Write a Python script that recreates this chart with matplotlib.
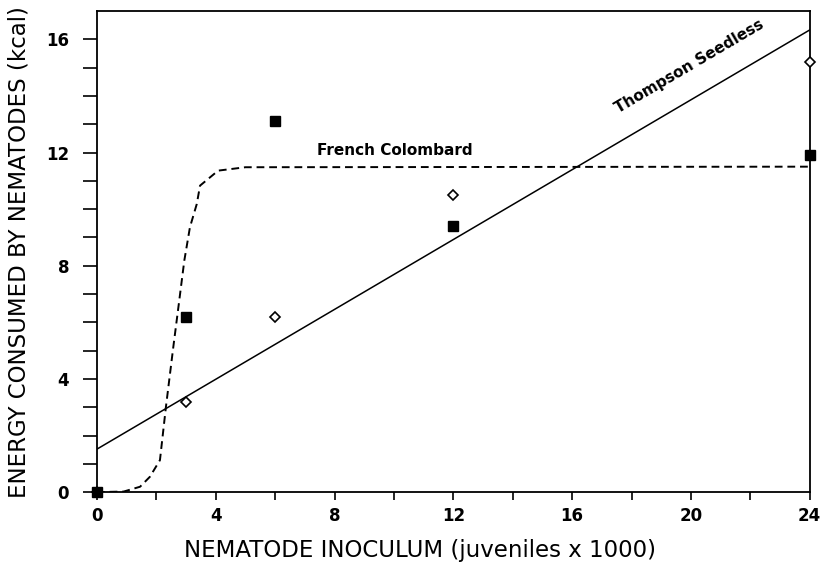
import numpy as np
import matplotlib
matplotlib.use("Agg")
import matplotlib.pyplot as plt

# inoculum (juveniles x 1000)
inoculum = [0, 3, 6, 12, 24]
french_colombard = [0, 6.2, 13.1, 9.4, 11.9]
thompson_seedless = [0, 3.2, 6.2, 10.5, 15.2]

# fitted curves
fc_curve_x = [0, 0.9, 1.45, 1.78, 2.12, 2.32, 2.57, 2.77, 2.94, 3.13, 3.36, 3.47, 4.08, 5.0, 24]
fc_curve_y = [0, 0.02, 0.19, 0.54, 1.13, 3.0, 5.13, 6.77, 8.18, 9.36, 10.18, 10.83, 11.36, 11.48, 11.5]
ts_line_x = [0, 24]
ts_line_y = [1.52, 16.33]

xticks_major = [0, 4, 8, 12, 16, 20, 24]
yticks_major = [0, 4, 8, 12, 16]


def main():
    fig = plt.figure(figsize=(8.22, 5.65), dpi=100)
    ax = fig.add_axes([0.118, 0.129, 0.867, 0.8515])

    ax.plot(fc_curve_x, fc_curve_y, "k--", lw=1.4, dashes=(4, 2.5))
    ax.plot(ts_line_x, ts_line_y, "k-", lw=1.1)
    ax.plot(inoculum, thompson_seedless, "D", ms=5, mfc="white", mec="black",
            mew=1.2, ls="none", clip_on=False, zorder=3)
    ax.plot(inoculum, french_colombard, "s", ms=7.5, color="black", ls="none",
            clip_on=False, zorder=4)

    ax.text(7.4, 12.06, "French Colombard", fontsize=11, fontweight="bold",
            va="center", ha="left")
    ax.text(19.95, 15.05, "Thompson Seedless", fontsize=11, fontweight="bold",
            va="center", ha="center", rotation=30.5, rotation_mode="anchor")

    ax.set_xlim(0, 24)
    ax.set_ylim(0, 17)
    ax.set_xticks(xticks_major)
    ax.set_xticks(np.arange(0, 25, 2), minor=True)
    ax.set_yticks(yticks_major)
    ax.set_yticks(np.arange(0, 17, 1), minor=True)
    ax.tick_params(which="both", direction="out", width=1.2, labelsize=12)
    ax.tick_params(axis="x", which="both", length=6, pad=5)
    ax.tick_params(axis="y", which="both", length=10, pad=10)
    for lab in ax.get_xticklabels() + ax.get_yticklabels():
        lab.set_fontweight("bold")
    for sp in ax.spines.values():
        sp.set_linewidth(1.3)

    ax.set_xlabel("NEMATODE INOCULUM (juveniles x 1000)", fontsize=16.5)
    ax.set_ylabel("ENERGY CONSUMED BY NEMATODES (kcal)", fontsize=16.5)
    ax.xaxis.set_label_coords(0.453, -0.098)
    ax.yaxis.set_label_coords(-0.094, 0.5)

    fig.savefig("out.png", dpi=100)


if __name__ == "__main__":
    main()
